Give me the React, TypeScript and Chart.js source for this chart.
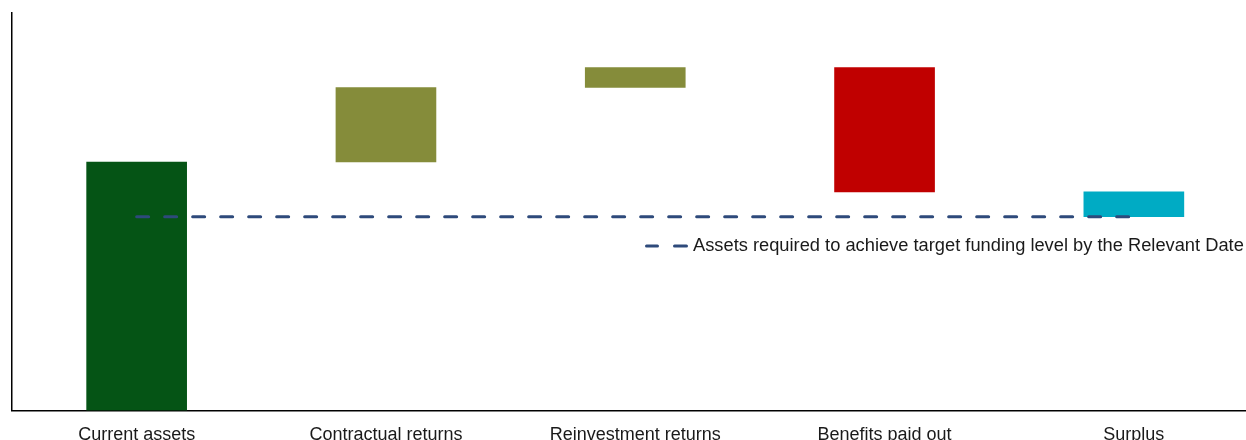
import React, { useEffect, useRef } from "react";
import { Chart, registerables } from "chart.js";

Chart.register(...registerables);

// Waterfall steps (£m): each step is drawn as a floating bar [from, to]
const categories = [
  "Current assets",
  "Contractual returns",
  "Reinvestment returns",
  "Benefits paid out",
  "Surplus",
];
const stepStart = [0, 100, 130, 88, 78];
const stepEnd = [100, 130, 138, 138, 88];
const stepColors = ["#055415", "#858C3A", "#858C3A", "#C00000", "#00ABC4"];

// Assets required to reach the target funding level
const requiredAssets = [78, 78, 78, 78, 78];
const requiredLabel =
  "Assets required to achieve target funding level by the Relevant Date";
const lineColor = "#2E4A7B";

const FONT = "Arial, 'Liberation Sans', sans-serif";

const insideLegend = {
  id: "insideLegend",
  afterDraw(chart: any) {
    const { ctx, chartArea } = chart;
    const x = chartArea.left + 633;
    const y = chartArea.top + 233;
    ctx.save();
    ctx.strokeStyle = lineColor;
    ctx.lineWidth = 3;
    ctx.lineCap = "round";
    ctx.beginPath();
    ctx.moveTo(x + 1.5, y);
    ctx.lineTo(x + 12.5, y);
    ctx.moveTo(x + 29.5, y);
    ctx.lineTo(x + 41.5, y);
    ctx.stroke();
    ctx.fillStyle = "#1A1A1A";
    ctx.font = `18.3px ${FONT}`;
    ctx.textBaseline = "middle";
    ctx.textAlign = "left";
    ctx.fillText(requiredLabel, x + 48, y);
    ctx.restore();
  },
};

export default function App() {
  const ref = useRef<HTMLCanvasElement>(null);

  useEffect(() => {
    if (!ref.current) return;
    const chart = new Chart(ref.current, {
      type: "bar",
      data: {
        labels: categories,
        datasets: [
          {
            type: "line",
            label: requiredLabel,
            data: requiredAssets,
            borderColor: lineColor,
            borderWidth: 3,
            borderDash: [12, 16],
            borderCapStyle: "round",
            pointRadius: 0,
            fill: false,
            order: 0,
          } as any,
          {
            type: "bar",
            label: "Steps",
            data: stepStart.map((s, i) => [s, stepEnd[i]]),
            backgroundColor: stepColors,
            borderWidth: 0,
            barThickness: 100,
            order: 1,
          } as any,
        ],
      },
      options: {
        responsive: false,
        animation: false,
        layout: { padding: { left: 4, right: 3.5, top: 13, bottom: 10 } },
        plugins: {
          legend: { display: false },
          tooltip: { enabled: false },
        },
        scales: {
          x: {
            grid: { display: false },
            border: { display: true, color: "#000", width: 1.5 },
            ticks: {
              color: "#1A1A1A",
              font: { family: FONT, size: 18 },
              padding: 6,
              maxRotation: 0,
              autoSkip: false,
            },
          },
          y: {
            min: 0,
            max: 160,
            grid: { display: false },
            border: { display: true, color: "#000", width: 1.5 },
            ticks: { display: false },
          },
        },
      },
      plugins: [insideLegend],
    });
    return () => chart.destroy();
  }, []);

  return (
    <div
      style={{
        position: "fixed",
        left: 0,
        top: 0,
        width: 1246,
        height: 440,
        overflow: "hidden",
        background: "#fff",
      }}
    >
      <canvas ref={ref} width={1262} height={462} />
    </div>
  );
}
